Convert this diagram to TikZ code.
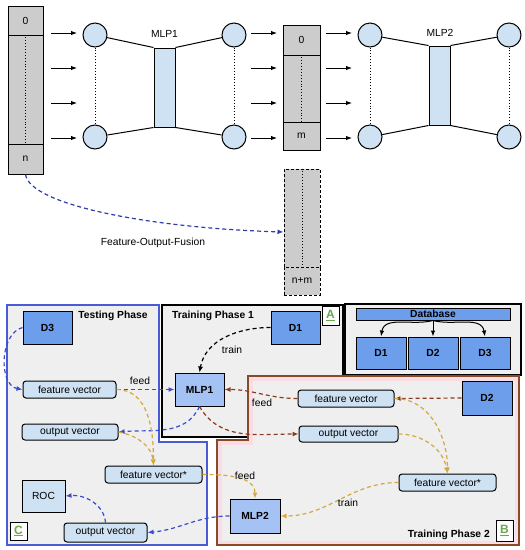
\documentclass[tikz,border=0pt]{standalone}
\usepackage{fontspec}
\setmainfont{Liberation Sans}
\usetikzlibrary{arrows.meta,calc}
\definecolor{lightblue}{HTML}{CFE2F3}
\definecolor{midblue}{HTML}{6D9EEB}
\definecolor{mlpblue}{HTML}{A4C2F4}
\definecolor{vgray}{HTML}{CCCCCC}
\definecolor{regfill}{HTML}{EFEFEF}
\definecolor{bluebd}{HTML}{4A5BD6}
\definecolor{brownbd}{HTML}{8A4A2A}
\definecolor{pinkband}{HTML}{FADDE3}
\definecolor{arrblue}{HTML}{3A4BD0}
\definecolor{arrbrown}{HTML}{8B3A1E}
\definecolor{arrgold}{HTML}{D6A83C}
\definecolor{lettergreen}{HTML}{6AA84F}
\newcommand{\mybox}[7]{\node[#1, minimum width=#5pt, minimum height=#6pt] (#2) at (#3,#4) {#7};}
\begin{document}
\begin{tikzpicture}[x=1pt,y=-1pt,
  font=\fontsize{10.3}{12}\selectfont,
  vecbox/.style={draw, fill=vgray, line width=1pt, inner sep=0pt},
  dvecbox/.style={draw, fill=vgray, line width=1pt, dash pattern=on 3pt off 2pt, inner sep=0pt},
  neuron/.style={circle, draw, fill=lightblue, line width=1pt, minimum size=24pt, inner sep=0pt},
  layerbox/.style={draw, fill=lightblue, line width=1pt, inner sep=0pt},
  dbox/.style={draw, fill=midblue, line width=1pt, inner sep=0pt, font=\fontsize{10.3}{12}\selectfont\bfseries},
  mbox/.style={draw, fill=mlpblue, line width=1pt, inner sep=0pt, font=\fontsize{10.3}{12}\selectfont\bfseries},
  vbox/.style={draw, fill=lightblue, rounded corners=3pt, line width=1pt, inner sep=0pt},
  rbox/.style={draw, fill=lightblue, line width=1pt, inner sep=0pt},
  lbox/.style={draw, fill=white, line width=1pt, inner sep=0pt, text=lettergreen, font=\fontsize{12}{13}\selectfont\bfseries},
  title/.style={inner sep=0pt, font=\fontsize{10.3}{12}\selectfont\bfseries},
  plain/.style={inner sep=0pt},
  blk/.style={-{Latex[length=6pt,width=4.5pt]}, line width=1pt},
  dsh/.style={-{Latex[length=6pt,width=5pt]}, line width=1.2pt, dash pattern=on 4pt off 3pt},
  ab/.style={dsh, arrblue},
  abr/.style={dsh, arrbrown},
  ag/.style={dsh, arrgold},
  ak/.style={dsh, black},
  dotline/.style={dotted, line width=0.9pt}
]
\useasboundingbox (0,0) rectangle (525,550);

% ---------------- top section ----------------
\mybox{vecbox}{v1a}{25.5}{20.5}{35}{29}{0}
\mybox{vecbox}{v1b}{25.5}{89.5}{35}{109}{}
\mybox{vecbox}{v1c}{25.5}{159}{35}{30}{n}
\draw[dotline] (v1b.north) -- (v1b.south);

\foreach \y [count=\i] in {33,68,103,138} {
  \coordinate (pa\i) at (51,\y); \coordinate (pb\i) at (77,\y);
  \coordinate (qa\i) at (251,\y); \coordinate (qb\i) at (277,\y);
  \coordinate (ra\i) at (326,\y); \coordinate (rb\i) at (352,\y);
  \draw[blk] (pa\i) -- (pb\i);
  \draw[blk] (qa\i) -- (qb\i);
  \draw[blk] (ra\i) -- (rb\i);
}

\node[neuron] (c1a) at (95,35) {};
\node[neuron] (c1b) at (95,137) {};
\node[neuron] (c1c) at (234,35) {};
\node[neuron] (c1d) at (234,137) {};
\mybox{layerbox}{m1}{164.5}{87.5}{21}{79}{}
\node[plain] (m1lab) at (164.5,34) {MLP1};
\draw[line width=1pt] (c1a) -- (m1.north west);
\draw[line width=1pt] (c1b) -- (m1.south west);
\draw[line width=1pt] (m1.north east) -- (c1c);
\draw[line width=1pt] (m1.south east) -- (c1d);
\draw[dotline] (c1a.south) -- (c1b.north);
\draw[dotline] (c1c.south) -- (c1d.north);

\mybox{vecbox}{v2a}{301.5}{40}{37}{30}{0}
\mybox{vecbox}{v2b}{301.5}{88.5}{37}{67}{}
\mybox{vecbox}{v2c}{301.5}{136}{37}{28}{m}
\draw[dotline] (v2b.north) -- (v2b.south);

\node[neuron] (c2a) at (370,35) {};
\node[neuron] (c2b) at (370,137) {};
\node[neuron] (c2c) at (509,35) {};
\node[neuron] (c2d) at (509,137) {};
\mybox{layerbox}{m2}{439.5}{85.5}{21}{79}{}
\node[plain] (m2lab) at (440,33) {MLP2};
\draw[line width=1pt] (c2a) -- (m2.north west);
\draw[line width=1pt] (c2b) -- (m2.south west);
\draw[line width=1pt] (m2.north east) -- (c2c);
\draw[line width=1pt] (m2.south east) -- (c2d);
\draw[dotline] (c2a.south) -- (c2b.north);
\draw[dotline] (c2c.south) -- (c2d.north);

\mybox{dvecbox}{v3a}{302}{218}{36}{98}{}
\mybox{dvecbox}{v3b}{302}{281}{36}{28}{n+m}
\draw[dotline] (v3a.north) -- (v3a.south);
\draw[ab, arrblue!80!black] (v1c.south) .. controls (30,205) and (150,228) .. ([yshift=-14pt]v3a.west);
\node[plain] (fof) at (153,243) {Feature-Output-Fusion};

% ---------------- regions ----------------
% Training Phase 1
\draw[fill=regfill, line width=1.5pt] (162,305) rectangle (343,437);
% Database
\draw[fill=regfill, line width=1.5pt] (345,304) rectangle (521,375);
% Testing Phase
\draw[fill=regfill, draw=bluebd, line width=1.5pt]
  (7,305) -- (159,305) -- (159,442) -- (207,442) -- (207,545) -- (7,545) -- cycle;
% Training Phase 2
\begin{scope}
  \clip (248,376) -- (519,376) -- (519,545) -- (217,545) -- (217,440) -- (248,440) -- cycle;
  \fill[regfill] (248,376) -- (519,376) -- (519,545) -- (217,545) -- (217,440) -- (248,440) -- cycle;
  \draw[pinkband, line width=9pt] (248,376) -- (519,376) -- (519,545) -- (217,545) -- (217,440) -- (248,440) -- cycle;
\end{scope}
\draw[draw=brownbd, line width=1.5pt]
  (248,376) -- (519,376) -- (519,545) -- (217,545) -- (217,440) -- (248,440) -- cycle;

% ---------------- testing phase nodes ----------------
\node[title] (ttitle) at (113,316) {Testing Phase};
\mybox{dbox}{tD3}{47.5}{327.5}{49}{33}{D3}
\mybox{vbox}{tfv}{69.5}{389.5}{93}{17}{feature vector}
\mybox{vbox}{tov}{70}{432}{96}{16}{output vector}
\mybox{vbox}{fvs}{153.5}{474.5}{97}{17}{feature vector*}
\mybox{rbox}{roc}{43.5}{496}{43}{32}{ROC}
\mybox{vbox}{tov2}{105.5}{532.5}{83}{19}{output vector}
\mybox{lbox}{lC}{18.5}{531}{17}{18}{\underline{C}}

% ---------------- training phase 1 ----------------
\node[title] (t1title) at (213,316) {Training Phase 1};
\mybox{dbox}{d1}{295.5}{327.5}{49}{33}{D1}
\mybox{lbox}{lA}{330.5}{315.5}{17}{19}{\underline{A}}
\mybox{mbox}{mlp1}{199.5}{389.5}{49}{33}{MLP1}

% ---------------- database ----------------
\mybox{dbox}{db}{433}{314}{154}{12}{Database}
\mybox{dbox}{dd1}{381}{353}{50}{32}{D1}
\mybox{dbox}{dd2}{433}{353}{50}{32}{D2}
\mybox{dbox}{dd3}{485}{353}{50}{32}{D3}
\draw[blk] (db.south) to[out=-165, in=80] (dd1.north);
\draw[blk] (db.south) -- (dd2.north);
\draw[blk] (db.south) to[out=-15, in=100] (dd3.north);

% ---------------- training phase 2 ----------------
\mybox{vbox}{bfv}{346}{398.5}{96}{17}{feature vector}
\mybox{vbox}{bov}{348.5}{434}{99}{16}{output vector}
\mybox{dbox}{d2}{487}{398}{50}{34}{D2}
\mybox{vbox}{bfvs}{447.5}{482.5}{97}{17}{feature vector*}
\mybox{mbox}{mlp2}{255}{516}{50}{34}{MLP2}
\mybox{lbox}{lB}{504.5}{530.5}{17}{21}{\underline{B}}
\node[title, anchor=east] (t2title) at (490,535) {Training Phase 2};

% ---------------- connectors ----------------
\draw[ak] (d1.west) to[out=180, in=80] (mlp1.north);
\node[plain] (trn1) at (232,350) {train};

\draw[ab] (tD3.west) to[out=195, in=170, looseness=1] (tfv.west);
\draw[ab] (tfv.east) -- (mlp1.west);
\node[plain] (feed1) at (140,381) {feed};
\draw[ab] (mlp1.south) to[out=-115, in=5] (tov.east);
\draw[ab] (mlp2.west) to[out=180, in=5] (tov2.east);
\draw[ab] (tov2.north) to[out=95, in=5] (roc.east);

\draw[ag] (tfv.east) to[out=0, in=90] (fvs.north);
\draw[ag] (tov.east) to[out=-10, in=95] (fvs.north);
\draw[ag] (fvs.east) to[out=0, in=90] (mlp2.north);
\node[plain] (feed2) at (245,476) {feed};

\draw[abr] (d2.west) -- (bfv.east);
\draw[abr] (bfv.west) to[out=180, in=0] (mlp1.east);
\node[plain] (feed3) at (262,403) {feed};
\draw[abr] (mlp1.south) to[out=-60, in=180] (bov.west);

\draw[ag] (bfv.east) to[out=0, in=90] (bfvs.north);
\draw[ag] (bov.east) to[out=0, in=100] (bfvs.north);
\draw[ag] (bfvs.west) to[out=180, in=0] (mlp2.east);
\node[plain] (trn2) at (348,503) {train};
\end{tikzpicture}
\end{document}
